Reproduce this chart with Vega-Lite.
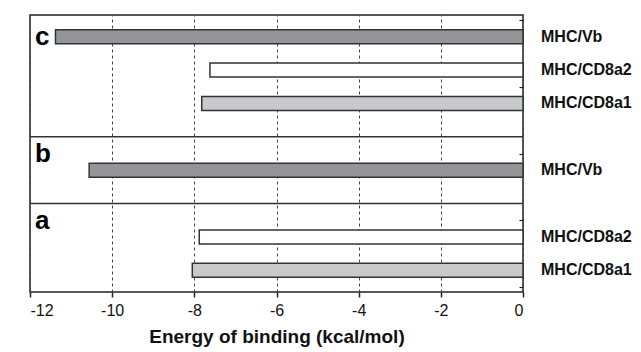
{
  "$schema": "https://vega.github.io/schema/vega-lite/v6.json",
  "width": 493,
  "height": 277,
  "autosize": {"type": "none"},
  "padding": {"left": 30, "top": 15, "right": 118, "bottom": 60},
  "background": "white",
  "config": {
    "font": "Liberation Sans",
    "view": {"stroke": "#222222", "strokeWidth": 1.5}
  },
  "datasets": {
    "bars": [
      {"label": "MHC/Vb", "panel": "c", "pos": 1, "energy": -11.38, "type": "Vb"},
      {"label": "MHC/CD8a2", "panel": "c", "pos": 3, "energy": -7.62, "type": "CD8a2"},
      {"label": "MHC/CD8a1", "panel": "c", "pos": 5, "energy": -7.82, "type": "CD8a1"},
      {"label": "MHC/Vb", "panel": "b", "pos": 9, "energy": -10.56, "type": "Vb"},
      {"label": "MHC/CD8a2", "panel": "a", "pos": 13, "energy": -7.88, "type": "CD8a2"},
      {"label": "MHC/CD8a1", "panel": "a", "pos": 15, "energy": -8.05, "type": "CD8a1"}
    ],
    "panels": [
      {"panel": "c", "top": 0},
      {"panel": "b", "top": 7},
      {"panel": "a", "top": 11}
    ],
    "separators": [
      {"pos": 7},
      {"pos": 11}
    ]
  },
  "layer": [
    {
      "data": {"name": "bars"},
      "mark": {"type": "bar", "height": 14, "stroke": "#333333", "strokeWidth": 1.5},
      "encoding": {
        "x": {
          "field": "energy",
          "type": "quantitative",
          "scale": {"domain": [-12, 0], "nice": false, "zero": false},
          "axis": {
            "values": [-12, -10, -8, -6, -4, -2, 0],
            "labelExpr": "'' + datum.value",
            "grid": true,
            "gridDash": [3, 3],
            "gridColor": "#444444",
            "gridWidth": 1,
            "domain": false,
            "ticks": true,
            "tickSize": 5,
            "tickColor": "#222222",
            "tickWidth": 1.5,
            "labelFontSize": 16,
            "labelColor": "#111111",
            "labelPadding": 5,
            "title": "Energy of binding (kcal/mol)",
            "titleFontSize": 19,
            "titleFontWeight": "bold",
            "titleColor": "#111111",
            "titlePadding": 9
          }
        },
        "x2": {"datum": 0},
        "y": {
          "field": "pos",
          "type": "quantitative",
          "scale": {"domain": [0, 16], "nice": false, "zero": false, "reverse": true},
          "axis": {
            "orient": "right",
            "values": [0, 1, 2, 3, 4, 5, 6, 7, 8, 9, 10, 11, 12, 13, 14, 15, 16],
            "labels": false,
            "grid": false,
            "domain": false,
            "ticks": true,
            "tickSize": -4,
            "tickColor": "#222222",
            "tickWidth": 1.2,
            "title": null
          }
        },
        "fill": {
          "field": "type",
          "type": "nominal",
          "scale": {"domain": ["Vb", "CD8a2", "CD8a1"], "range": ["#939598", "#ffffff", "#c8c9cb"]},
          "legend": null
        }
      }
    },
    {
      "data": {"name": "separators"},
      "mark": {"type": "rule", "color": "#333333", "strokeWidth": 1.5},
      "encoding": {
        "y": {"field": "pos", "type": "quantitative"}
      }
    },
    {
      "data": {"name": "bars"},
      "mark": {"type": "text", "align": "left", "baseline": "middle", "dx": 18, "fontSize": 16, "fontWeight": "bold", "color": "#111111"},
      "encoding": {
        "x": {"datum": 0},
        "y": {"field": "pos", "type": "quantitative"},
        "text": {"field": "label"}
      }
    },
    {
      "data": {"name": "panels"},
      "mark": {"type": "text", "align": "left", "baseline": "alphabetic", "dx": 5, "dy": 25, "fontSize": 26, "fontWeight": "bold", "color": "#000000"},
      "encoding": {
        "x": {"datum": -12},
        "y": {"field": "top", "type": "quantitative"},
        "text": {"field": "panel"}
      }
    }
  ]
}
